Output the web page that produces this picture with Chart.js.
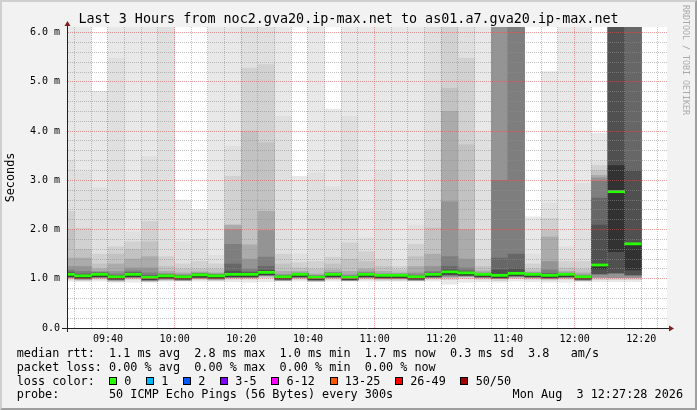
<!DOCTYPE html>
<html>
<head>
<meta charset="utf-8">
<title>Last 3 Hours from noc2.gva20.ip-max.net to as01.a7.gva20.ip-max.net</title>
<script src="https://cdn.jsdelivr.net/npm/chart.js@4/dist/chart.umd.min.js"></script>
<style>
  html, body { margin: 0; padding: 0; background: #f2f2f2; }
  #graph { position: relative; width: 697px; height: 410px; overflow: hidden; background: #f2f2f2;
           font-family: 'DejaVu Sans Mono', monospace; color: #000; }
  #smoke { position: absolute; left: 0; top: 0; }
  #edge { position: absolute; left: 0; top: 0; width: 697px; height: 410px; box-sizing: border-box;
          border: 2px solid; border-color: #cfcfcf #9e9e9e #9e9e9e #cfcfcf; }
  #title { position: absolute; left: 0; top: 11px; width: 697px; text-align: center;
           font-size: 13.4px; line-height: 16px; white-space: pre; }
  #legend { position: absolute; left: 16.7px; top: 347.3px; font-size: 11.8px; line-height: 13.67px; white-space: pre; }
  #stamp { position: absolute; right: 14px; top: 388.3px; font-size: 11.8px; line-height: 13.67px; white-space: pre; }
  #credit { position: absolute; left: 681px; top: 5px; writing-mode: vertical-rl; font-size: 8.3px;
            line-height: 10px; color: #aaaaaa; white-space: pre; }
  .box { display: inline-block; width: 6px; height: 6px; border: 1px solid #000; margin-right: 7.3px; }
  .item { margin-right: 14.6px; }
</style>
</head>
<body>
<div id="graph">
  <canvas id="smoke" width="697" height="410"></canvas>
  <div id="title">Last 3 Hours from noc2.gva20.ip-max.net to as01.a7.gva20.ip-max.net</div>
  <div id="legend"></div>
  <div id="stamp"></div>
  <div id="credit">RRDTOOL / TOBI OETIKER</div>
  <div id="edge"></div>
</div>
<script>
// end of each 5 minute slot
var slotEnds = ['09:30','09:35','09:40','09:45','09:50','09:55','10:00','10:05','10:10','10:15',
                '10:20','10:25','10:30','10:35','10:40','10:45','10:50','10:55','11:00','11:05',
                '11:10','11:15','11:20','11:25','11:30','11:35','11:40','11:45','11:50','11:55',
                '12:00','12:05','12:10','12:15','12:20'];

// median rtt (ms)
var median = [1.09,1.06,1.09,1.04,1.09,1.03,1.06,1.04,1.08,1.06,
              1.09,1.09,1.13,1.04,1.09,1.03,1.09,1.03,1.09,1.07,
              1.07,1.04,1.09,1.14,1.12,1.09,1.07,1.11,1.09,1.07,
              1.09,1.04,1.28,2.77,1.71];

// smoke: upper edge of each band, outer (lightest) to inner (darkest), ms; 6.2 = off the top
var top1 = [6.2,6.2,4.81,6.2,6.2,6.2,6.2,2.60,2.40,6.2,
            6.2,6.2,6.2,6.2,3.08,6.2,4.45,6.2,6.2,6.2,
            6.2,6.2,6.2,6.2,6.2,6.2,6.2,6.2,2.26,5.21,
            6.2,6.2,3.96,6.2,6.2];
var top2 = [3.40,3.18,2.85,5.48,1.96,3.48,6.2,1.75,1.80,1.48,
            3.69,6.2,6.2,4.30,1.50,3.15,2.87,4.30,1.83,3.18,
            1.40,2.09,6.2,6.2,6.2,4.00,6.2,6.2,1.50,2.54,
            1.65,2.94,3.38,6.2,6.2];
var top3 = [2.37,2.03,1.50,1.65,1.75,2.16,1.45,1.30,1.35,1.30,
            3.08,5.28,5.35,1.50,1.33,1.35,1.44,1.73,1.55,1.40,
            1.25,1.70,2.40,6.2,5.48,1.40,6.2,6.2,1.30,2.23,
            1.35,1.35,3.30,6.2,6.2];
var top4 = [2.00,1.60,1.30,1.50,1.60,1.75,1.25,1.20,1.20,1.20,
            2.09,4.00,3.76,1.30,1.22,1.20,1.30,1.40,1.35,1.25,
            1.18,1.45,2.03,4.87,3.72,1.25,6.2,6.2,1.20,2.00,
            1.22,1.20,3.20,6.2,6.2];
var top5 = [1.42,1.42,1.20,1.30,1.40,1.45,1.15,1.12,1.14,1.12,
            2.09,1.69,2.37,1.15,1.15,1.10,1.18,1.15,1.20,1.15,
            1.12,1.25,1.50,4.40,2.00,1.16,6.2,6.2,1.14,1.85,
            1.15,1.12,3.10,6.2,6.2];
var top6 = [1.25,1.25,1.15,1.15,1.22,1.22,1.11,1.09,1.12,1.10,
            2.00,1.40,1.98,1.09,1.12,1.07,1.13,1.08,1.14,1.10,
            1.10,1.12,1.25,2.57,1.40,1.12,6.2,6.2,1.12,1.35,
            1.12,1.08,3.05,6.2,6.2];
var top7 = [1.18,1.15,1.13,1.10,1.16,1.12,1.09,1.07,1.11,1.09,
            1.70,1.20,1.44,1.07,1.11,1.06,1.12,1.06,1.12,1.09,
            1.09,1.08,1.15,1.45,1.22,1.11,3.00,6.2,1.11,1.18,
            1.11,1.06,2.98,6.2,6.2];
var top8 = [1.14,1.10,1.12,1.07,1.13,1.07,1.08,1.06,1.10,1.08,
            1.30,1.14,1.25,1.06,1.10,1.05,1.11,1.05,1.11,1.08,
            1.08,1.06,1.12,1.25,1.16,1.10,1.42,1.50,1.10,1.11,
            1.10,1.05,2.64,6.2,6.2];
var top9 = [1.12,1.08,1.11,1.06,1.11,1.05,1.07,1.05,1.09,1.07,
            1.15,1.12,1.17,1.05,1.10,1.04,1.10,1.04,1.10,1.08,
            1.08,1.05,1.11,1.18,1.14,1.10,1.18,1.20,1.10,1.09,
            1.10,1.05,2.09,6.2,3.20];
var top10 = [1.10,1.07,1.10,1.05,1.10,1.04,1.07,1.05,1.09,1.07,
             1.11,1.10,1.14,1.05,1.10,1.04,1.10,1.04,1.10,1.08,
             1.08,1.05,1.10,1.15,1.13,1.10,1.09,1.12,1.10,1.08,
             1.10,1.05,1.30,3.30,1.72];

// smoke: lower edges (ms)
var lowMin = [0.95,0.94,0.95,0.93,0.93,0.93,0.95,0.95,0.95,0.95,
              0.94,0.93,0.94,0.95,0.95,0.94,0.95,0.95,0.95,0.95,
              0.95,0.95,0.95,0.89,0.93,0.94,0.93,0.95,0.94,0.93,
              0.93,0.94,0.94,0.94,0.94];
var lowLight = [0.99,0.96,0.99,0.94,0.99,0.94,0.96,0.96,0.98,0.96,
                0.99,0.99,1.02,0.96,0.99,0.95,0.99,0.96,0.99,0.97,
                0.97,0.96,0.99,0.98,1.00,0.99,0.96,1.00,0.99,0.97,
                0.99,0.96,0.98,0.98,0.98];
var lowMid = [1.02,0.99,1.02,0.97,1.02,0.96,0.99,0.97,1.01,0.99,
              1.02,1.02,1.06,0.97,1.02,0.96,1.02,0.97,1.02,1.00,
              1.00,0.97,1.02,1.04,1.05,1.02,1.00,1.04,1.02,1.00,
              1.02,0.97,1.03,1.02,1.02];
var lowInner = [1.04,1.01,1.04,0.99,1.04,0.98,1.01,0.99,1.03,1.01,
                1.04,1.04,1.08,0.99,1.04,0.98,1.04,0.98,1.04,1.02,
                1.02,0.99,1.04,1.08,1.07,1.04,1.02,1.06,1.04,1.02,
                1.04,0.99,1.10,1.12,1.08];
var lowCore = [1.05,1.02,1.05,1.00,1.05,0.99,1.02,1.00,1.04,1.02,
               1.05,1.05,1.09,1.00,1.05,0.99,1.05,0.99,1.05,1.03,
               1.03,1.00,1.05,1.10,1.08,1.05,1.03,1.07,1.05,1.03,
               1.05,1.00,1.20,1.55,1.18];

var yTickValues = [0,0.2,0.4,0.6,0.8,1,1.2,1.4,1.6,1.8,2,2.2,2.4,2.6,2.8,3,
                   3.2,3.4,3.6,3.8,4,4.2,4.4,4.6,4.8,5,5.2,5.4,5.6,5.8,6];

var rttStats = ['1.1 ms avg','2.8 ms max','1.0 ms min','1.7 ms now','0.3 ms sd','3.8   am/s'];
var lossStats = ['0.00 % avg','0.00 % max','0.00 % min','0.00 % now'];
var lossLabels = ['0','1','2','3-5','6-12','13-25','26-49','50/50'];
var lossColors = ['#26ff00','#00b8ff','#0059ff','#7e00ff','#ff00ff','#ff5500','#ff0000','#a10000'];
var probeText = '50 ICMP Echo Pings (56 Bytes) every 300s';
var stampText = 'Mon Aug  3 12:27:28 2026';

function toMin(s) {
    var p = s.split(':');
    return Number(p[0]) * 60 + Number(p[1]);
}
function hhmm(v) {
    var h = Math.floor(v / 60), m = Math.round(v % 60);
    return (h < 10 ? '0' : '') + h + ':' + (m < 10 ? '0' : '') + m;
}

var bands = [
    { top: top1,  low: lowMin,   color: '#e8e8e8' },
    { top: top2,  low: lowLight, color: '#e0e0e0' },
    { top: top3,  low: lowLight, color: '#d1d1d1' },
    { top: top4,  low: lowMid,   color: '#c2c2c2' },
    { top: top5,  low: lowMid,   color: '#ababab' },
    { top: top6,  low: lowMid,   color: '#949494' },
    { top: top7,  low: lowInner, color: '#7e7e7e' },
    { top: top8,  low: lowInner, color: '#676767' },
    { top: top9,  low: lowInner, color: '#505050' },
    { top: top10, low: lowCore,  color: '#323232' }
];

var datasets = bands.map(function(b, i) {
    return {
        label: 'smoke' + (i + 1),
        data: slotEnds.map(function(t, j) {
            return { x: toMin(t) - 2.5, y: [b.low[j], b.top[j]] };
        }),
        backgroundColor: b.color,
        borderWidth: 0,
        grouped: false,
        barPercentage: 1,
        categoryPercentage: 1,
        order: 20 - i
    };
});
datasets.push({
    label: 'median rtt',
    data: slotEnds.map(function(t, j) {
        return { x: toMin(t) - 2.5, y: [median[j] - 0.022, median[j] + 0.022] };
    }),
    backgroundColor: lossColors[0],
    borderWidth: 0,
    grouped: false,
    barPercentage: 1,
    categoryPercentage: 1,
    order: 0
});

// plot canvas + axis arrows
var plotDecor = {
    id: 'plotDecor',
    beforeDraw: function(chart) {
        var a = chart.chartArea, ctx = chart.ctx;
        ctx.save();
        ctx.fillStyle = '#ffffff';
        ctx.fillRect(a.left, a.top, a.right - a.left, a.bottom - a.top);
        ctx.restore();
    },
    afterDraw: function(chart) {
        var a = chart.chartArea, ctx = chart.ctx;
        ctx.save();
        ctx.strokeStyle = '#1f1f1f';
        ctx.lineWidth = 1;
        ctx.beginPath();
        ctx.moveTo(a.left - 5, a.bottom + 0.5); ctx.lineTo(a.left, a.bottom + 0.5);
        ctx.moveTo(a.right, a.bottom + 0.5); ctx.lineTo(a.right + 3, a.bottom + 0.5);
        ctx.moveTo(a.left + 0.5, a.bottom); ctx.lineTo(a.left + 0.5, a.bottom + 4);
        ctx.moveTo(a.left + 0.5, a.top); ctx.lineTo(a.left + 0.5, a.top - 2);
        ctx.stroke();
        ctx.fillStyle = '#801f1f';
        ctx.beginPath();
        ctx.moveTo(a.left - 2.5, a.top - 1);
        ctx.lineTo(a.left + 3.5, a.top - 1);
        ctx.lineTo(a.left + 0.5, a.top - 6);
        ctx.closePath();
        ctx.fill();
        ctx.beginPath();
        ctx.moveTo(a.right + 2, a.bottom - 2.5);
        ctx.lineTo(a.right + 2, a.bottom + 3.5);
        ctx.lineTo(a.right + 7, a.bottom + 0.5);
        ctx.closePath();
        ctx.fill();
        ctx.restore();
    }
};

var gridMinor = 'rgba(143,143,143,0.55)';
var gridMajor = 'rgba(222,79,79,0.55)';

var smokeConfig = {
    type: 'bar',
    data: { datasets: datasets },
    options: {
        responsive: false,
        animation: false,
        devicePixelRatio: 1,
        events: [],
        layout: { padding: { left: 0, top: 27, right: 30, bottom: 0 } },
        plugins: { legend: { display: false }, tooltip: { enabled: false }, title: { display: false } },
        scales: {
            x: {
                type: 'linear',
                min: 567.7,
                max: 747.7,
                offset: false,
                grid: {
                    z: 1,
                    offset: false,
                    drawTicks: false,
                    lineWidth: 1,
                    color: function(c) { return c.tick && c.tick.value % 20 === 0 ? gridMajor : gridMinor; }
                },
                border: { display: true, z: 2, color: '#1f1f1f', width: 1, dash: [1, 1] },
                afterBuildTicks: function(scale) {
                    var t = [];
                    for (var v = 570; v <= 745; v += 5) t.push({ value: v });
                    scale.ticks = t;
                },
                afterFit: function(scale) { scale.height = 82; },
                ticks: {
                    autoSkip: false,
                    maxRotation: 0,
                    minRotation: 0,
                    padding: 5,
                    color: '#000',
                    font: { family: "'DejaVu Sans Mono', monospace", size: 10 },
                    callback: function(v) { return v % 20 === 0 ? hhmm(v) : ''; }
                }
            },
            y: {
                min: 0,
                max: 6.115,
                grid: {
                    z: 1,
                    drawTicks: false,
                    lineWidth: 1,
                    color: function(c) {
                        var v = c.tick ? c.tick.value : 0;
                        return Math.abs(v - Math.round(v)) < 1e-6 ? gridMajor : gridMinor;
                    }
                },
                border: { display: true, z: 2, color: '#1f1f1f', width: 1, dash: [1, 1] },
                afterBuildTicks: function(scale) {
                    scale.ticks = yTickValues.map(function(v) { return { value: v }; });
                },
                afterFit: function(scale) { scale.width = 67; },
                title: {
                    display: true,
                    text: 'Seconds',
                    color: '#000',
                    font: { family: "'DejaVu Sans Mono', monospace", size: 11.8 },
                    padding: { top: 3.5, bottom: 0 }
                },
                ticks: {
                    autoSkip: false,
                    padding: 7,
                    color: '#000',
                    font: { family: "'DejaVu Sans Mono', monospace", size: 10 },
                    callback: function(v) {
                        if (Math.abs(v - Math.round(v)) > 1e-6) return '';
                        return v === 0 ? '0.0' : v.toFixed(1) + ' m';
                    }
                }
            }
        }
    },
    plugins: [plotDecor]
};

function buildLegend() {
    var html = 'median rtt:  ' + rttStats.join('  ') + '\n';
    html += 'packet loss: ' + lossStats.join('  ') + '\n';
    html += 'loss color:  ';
    for (var i = 0; i < lossLabels.length; i++) {
        html += '<span class="box" style="background:' + lossColors[i] + '"></span>' +
                '<span class="item">' + lossLabels[i] + '</span>';
    }
    html += '\nprobe:       ' + probeText;
    document.getElementById('legend').innerHTML = html;
    document.getElementById('stamp').textContent = stampText;
}

window.onload = function() {
    buildLegend();
    var ctx = document.getElementById('smoke').getContext('2d');
    window.smokeChart = new Chart(ctx, smokeConfig);
};
</script>
</body>
</html>
